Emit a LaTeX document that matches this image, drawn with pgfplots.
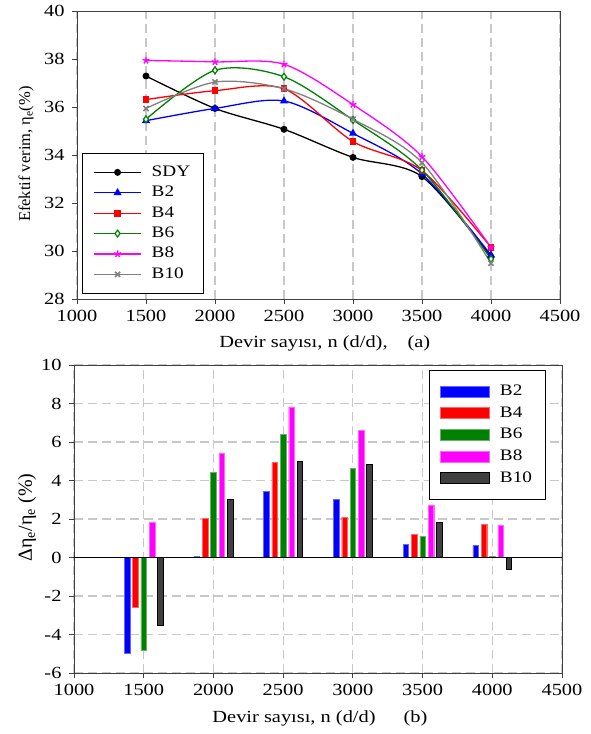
\documentclass[border=0pt]{standalone}
\usepackage{fontspec}
\setmainfont{Liberation Serif}[FakeStretch=1.2]
\newfontfamily\labelfont{Liberation Serif}
\usepackage{pgfplots}
\pgfplotsset{compat=1.18}

\definecolor{cgreen}{RGB}{0,128,0}
\definecolor{cgray}{RGB}{128,128,128}
\definecolor{cdark}{RGB}{64,64,64}
\definecolor{cmag}{RGB}{255,0,255}
\definecolor{cblue}{RGB}{0,0,255}
\definecolor{cred}{RGB}{255,0,0}
\definecolor{gridc}{RGB}{200,200,200}
\definecolor{framec}{RGB}{64,64,64}

\pgfplotsset{
  panel/.style={
    scale only axis,
    xmin=1000, xmax=4500,
    xtick={1000,1500,...,4500},
    tick align=outside, tick pos=left,
    major tick length=5pt,
    axis line style={framec, line width=0.9pt},
    every tick/.style={framec, line width=0.9pt},
    grid style={gridc, line width=1.2pt, dash pattern=on 9pt off 5pt},
    /pgf/number format/assume math mode=true,
    /pgf/number format/1000 sep={},
    tick label style={font=\fontsize{17}{20}\selectfont},
    xticklabel style={yshift=-3pt},
    yticklabel style={xshift=-4pt},
    xlabel style={font=\fontsize{17}{20}\selectfont, anchor=center},
    ylabel style={anchor=center, rotate=0},
    legend cell align=left,
  },
}

\begin{document}
\begin{tikzpicture}[x=1pt,y=1pt]
\useasboundingbox (0,0) rectangle (591,734);

% (a) effective efficiency against engine speed
\begin{axis}[panel,
  at={(77pt,435pt)}, anchor=south west,
  width=483pt, height=288pt,
  ymin=28, ymax=40, ytick={28,30,...,40},
  xmajorgrids,
  xlabel={Devir sayısı, n (d/d),\hspace{20pt}(a)},
  xlabel style={at={(axis description cs:0.513,-0.153)}},
  ylabel={\labelfont\fontsize{16.5}{19}\selectfont Efektif verim, η\textsubscript{e}(\%)},
  ylabel style={at={(axis description cs:-0.1056,0.503)}},
  legend style={at={(0.0104,0.507)}, anchor=north west,
    draw=black, line width=0.8pt, inner xsep=11pt, inner ysep=10pt,
    font=\fontsize{16}{19}\selectfont, column sep=8pt,
    nodes={text height=11pt, text depth=3pt}, row sep=2.4pt},
  legend image code/.code={%
    \draw[mark repeat=2, mark phase=2, #1]
      plot coordinates {(0pt,0pt) (23.5pt,0pt) (47pt,0pt)};},
  every axis plot/.append style={line width=1.3pt, smooth, tension=0.5},
]
\addplot[black, mark=*, mark size=2.8pt] coordinates {
  (1500,37.29) (2000,35.94) (2500,35.07) (3000,33.90) (3500,33.10) (4000,29.75)};
\addlegendentry{SDY}
\addplot[cblue, mark=triangle*, mark size=3.4pt] coordinates {
  (1500,35.43) (2000,35.94) (2500,36.25) (3000,34.90) (3500,33.21) (4000,29.83)};
\addlegendentry{B2}
\addplot[cred, mark=square*, mark size=2.8pt] coordinates {
  (1500,36.31) (2000,36.68) (2500,36.76) (3000,34.56) (3500,33.35) (4000,30.15)};
\addlegendentry{B4}
\addplot[cgreen, mark=diamond*, mark size=3.4pt, mark options={fill=white, line width=1.2pt}] coordinates {
  (1500,35.49) (2000,37.53) (2500,37.26) (3000,35.46) (3500,33.37) (4000,29.67)};
\addlegendentry{B6}
\addplot[cmag, mark=star, mark size=3.6pt, mark options={line width=1.4pt}] coordinates {
  (1500,37.94) (2000,37.88) (2500,37.78) (3000,36.10) (3500,33.93) (4000,30.15)};
\addlegendentry{B8}
\addplot[cgray, mark=x, mark size=3.6pt, mark options={line width=1.6pt}] coordinates {
  (1500,35.94) (2000,37.04) (2500,36.76) (3000,35.49) (3500,33.68) (4000,29.49)};
\addlegendentry{B10}
\end{axis}

% (b) relative change of effective efficiency
\begin{axis}[panel,
  at={(74pt,61pt)}, anchor=south west,
  width=488pt, height=308pt,
  ymin=-6, ymax=10, ytick={-6,-4,...,10},
  xmajorgrids, ymajorgrids,
  ybar, bar width=40,
  xlabel={Devir sayısı, n (d/d)\hspace{28pt}(b)},
  xlabel style={at={(axis description cs:0.504,-0.146)}},
  ylabel={\labelfont\fontsize{20}{23}\selectfont Δη\textsubscript{e}/η\textsubscript{e} (\%)},
  ylabel style={at={(axis description cs:-0.0963,0.505)}},
  legend style={at={(0.727,0.984)}, anchor=north west,
    draw=black, line width=0.8pt, inner xsep=11pt, inner ysep=12pt,
    font=\fontsize{16}{19}\selectfont, column sep=8pt,
    nodes={text height=11pt, text depth=3pt}, row sep=3.7pt},
  legend image code/.code={%
    \draw[#1] (0pt,-5.5pt) rectangle (49pt,5.5pt);},
]
\addplot[fill=cblue, draw=cblue!60!white, line width=0.4pt, bar shift=-120] coordinates {
  (1500,-4.96) (2000,0.05) (2500,3.43) (3000,3.03) (3500,0.69) (4000,0.64)};
\addlegendentry{B2}
\addplot[fill=cred, draw=cred!60!white, line width=0.4pt, bar shift=-60] coordinates {
  (1500,-2.60) (2000,2.05) (2500,4.96) (3000,2.10) (3500,1.21) (4000,1.73)};
\addlegendentry{B4}
\addplot[fill=cgreen, draw=cgreen!60!white, line width=0.4pt, bar shift=0] coordinates {
  (1500,-4.84) (2000,4.42) (2500,6.41) (3000,4.64) (3500,1.11) (4000,0.07)};
\addlegendentry{B6}
\addplot[fill=cmag, draw=cmag!60!white, line width=0.4pt, bar shift=60] coordinates {
  (1500,1.85) (2000,5.44) (2500,7.83) (3000,6.62) (3500,2.74) (4000,1.70)};
\addlegendentry{B8}
\addplot[fill=cdark, draw=black, line width=0.8pt, bar shift=120] coordinates {
  (1500,-3.55) (2000,3.03) (2500,5.01) (3000,4.84) (3500,1.84) (4000,-0.64)};
\addlegendentry{B10}
\addplot[sharp plot, black, line width=0.9pt, forget plot] coordinates {(1000,0) (4500,0)};
\end{axis}
\end{tikzpicture}
\end{document}
